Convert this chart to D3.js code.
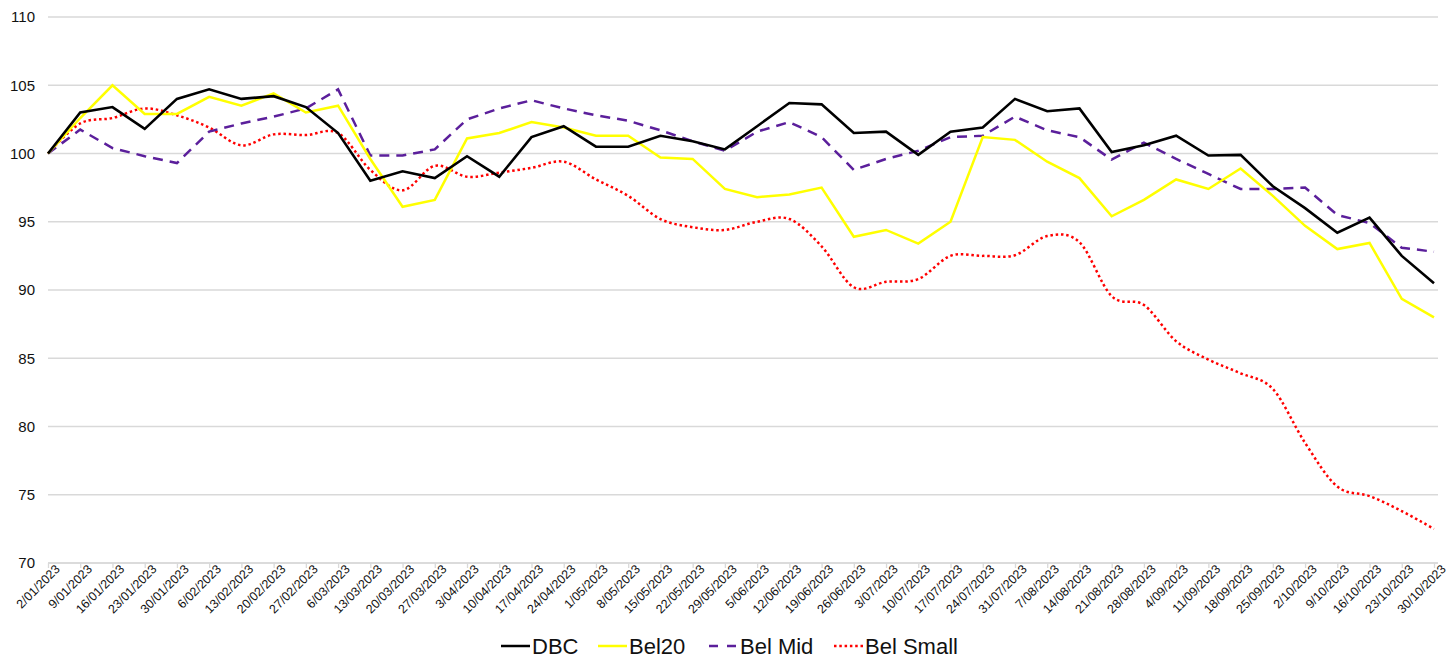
<!DOCTYPE html>
<html>
<head>
<meta charset="utf-8">
<script src="https://cdn.jsdelivr.net/npm/d3@7"></script>
<style>
  body { margin: 0; background: #fff; }
  text { font-family: "Liberation Sans", "DejaVu Sans", sans-serif; fill: #111; }
</style>
</head>
<body>
<div id="chart"></div>
<script>
// weekly dates (x categories)
var dates = ["2/01/2023","9/01/2023","16/01/2023","23/01/2023","30/01/2023","6/02/2023","13/02/2023",
  "20/02/2023","27/02/2023","6/03/2023","13/03/2023","20/03/2023","27/03/2023","3/04/2023","10/04/2023",
  "17/04/2023","24/04/2023","1/05/2023","8/05/2023","15/05/2023","22/05/2023","29/05/2023","5/06/2023",
  "12/06/2023","19/06/2023","26/06/2023","3/07/2023","10/07/2023","17/07/2023","24/07/2023","31/07/2023",
  "7/08/2023","14/08/2023","21/08/2023","28/08/2023","4/09/2023","11/09/2023","18/09/2023","25/09/2023",
  "2/10/2023","9/10/2023","16/10/2023","23/10/2023","30/10/2023"];

var dbc = [100, 103.0, 103.4, 101.8, 104.0, 104.7, 104.0, 104.2, 103.4, 101.5, 98.0, 98.7, 98.2, 99.8, 98.3,
  101.2, 102.0, 100.5, 100.5, 101.3, 100.9, 100.3, 102.0, 103.7, 103.6, 101.5, 101.6, 99.9, 101.6, 101.9,
  104.0, 103.1, 103.3, 100.1, 100.6, 101.3, 99.85, 99.9, 97.6, 96.0, 94.2, 95.3, 92.5, 90.5];

var bel20 = [100, 102.6, 105.0, 102.9, 102.9, 104.15, 103.5, 104.4, 103.0, 103.5, 99.6, 96.1, 96.6, 101.1, 101.5,
  102.3, 101.9, 101.3, 101.3, 99.7, 99.6, 97.4, 96.8, 97.0, 97.5, 93.9, 94.4, 93.4, 95.0, 101.2,
  101.0, 99.4, 98.2, 95.4, 96.6, 98.1, 97.4, 98.9, 96.9, 94.7, 93.0, 93.45, 89.35, 88.0];

var belMid = [100, 101.75, 100.4, 99.8, 99.3, 101.6, 102.2, 102.7, 103.3, 104.7, 99.85, 99.85, 100.3, 102.5, 103.3,
  103.9, 103.3, 102.8, 102.4, 101.7, 100.9, 100.2, 101.6, 102.3, 101.2, 98.8, 99.6, 100.2, 101.2, 101.3,
  102.7, 101.7, 101.2, 99.55, 100.8, 99.6, 98.5, 97.4, 97.4, 97.5, 95.5, 94.9, 93.1, 92.8];

var belSmall = [100, 102.2, 102.6, 103.3, 102.8, 101.9, 100.6, 101.4, 101.35, 101.5, 98.8, 97.3, 99.1, 98.3, 98.6,
  98.95, 99.4, 98.1, 96.9, 95.2, 94.6, 94.4, 95.0, 95.2, 93.2, 90.2, 90.6, 90.8, 92.5, 92.5,
  92.55, 93.95, 93.5, 89.55, 88.9, 86.25, 84.9, 83.9, 82.75, 78.8, 75.6, 74.9, 73.8, 72.5];

var yTicks = [70, 75, 80, 85, 90, 95, 100, 105, 110];
var seriesNames = ["DBC", "Bel20", "Bel Mid", "Bel Small"];

var svgWidth = 1456;
var svgHeight = 669;
var margin = { top: 17, right: 22, bottom: 106, left: 48 };
var width = svgWidth - margin.left - margin.right;
var height = svgHeight - margin.top - margin.bottom;

var svg = d3.select("#chart")
  .append("svg")
  .attr("width", svgWidth)
  .attr("height", svgHeight);

var chartGroup = svg.append("g")
  .attr("transform", `translate(${margin.left}, ${margin.top})`);

var xScale = d3.scalePoint().domain(dates).range([0, width]);
var yScale = d3.scaleLinear().domain([70, 110]).range([height, 0]);

// gridlines
chartGroup.append("g")
  .selectAll("line")
  .data(yTicks)
  .enter()
  .append("line")
  .attr("x1", 0)
  .attr("x2", width + 4)
  .attr("y1", d => yScale(d))
  .attr("y2", d => yScale(d))
  .attr("stroke", "#d9d9d9")
  .attr("stroke-width", 1.3);

// y labels
var leftAxis = d3.axisLeft(yScale).tickValues(yTicks).tickSize(0).tickPadding(13);
var yAxisG = chartGroup.append("g").call(leftAxis);
yAxisG.select(".domain").remove();
yAxisG.selectAll("text").attr("font-size", "15px").style("font-family", "Liberation Sans, sans-serif");

// x axis
var bottomAxis = d3.axisBottom(xScale).tickSize(5).tickPadding(3);
var xAxisG = chartGroup.append("g")
  .attr("transform", `translate(0, ${height})`)
  .call(bottomAxis);
xAxisG.select(".domain").attr("stroke", "#d9d9d9").attr("stroke-width", 1.3)
  .attr("d", `M0,0H${width + 4}`);
xAxisG.selectAll(".tick line").attr("stroke", "#d9d9d9").attr("stroke-width", 1.3);
xAxisG.selectAll("text")
  .attr("font-size", "12.5px")
  .style("text-anchor", "end")
  .attr("dx", "0.3em")
  .attr("dy", "0.6em")
  .attr("y", 6)
  .attr("transform", "rotate(-45)");

// lines
var line = d3.line()
  .x((d, i) => xScale(dates[i]))
  .y(d => yScale(d));

var smoothLine = d3.line()
  .x((d, i) => xScale(dates[i]))
  .y(d => yScale(d))
  .curve(d3.curveCatmullRom.alpha(0));

chartGroup.append("path")
  .attr("d", smoothLine(belSmall))
  .attr("fill", "none")
  .attr("stroke", "#ff0000")
  .attr("stroke-width", 2.5)
  .attr("stroke-dasharray", "2.5,2.8");

chartGroup.append("path")
  .attr("d", line(belMid))
  .attr("fill", "none")
  .attr("stroke", "#5b1f9b")
  .attr("stroke-width", 2.5)
  .attr("stroke-dasharray", "10,7");

chartGroup.append("path")
  .attr("d", line(bel20))
  .attr("fill", "none")
  .attr("stroke", "#ffff00")
  .attr("stroke-width", 2.5);

chartGroup.append("path")
  .attr("d", line(dbc))
  .attr("fill", "none")
  .attr("stroke", "#000000")
  .attr("stroke-width", 2.6);

// legend
var legendItems = [
  { name: seriesNames[0], color: "#000000", dash: null, x: 501 },
  { name: seriesNames[1], color: "#ffff00", dash: null, x: 598 },
  { name: seriesNames[2], color: "#5b1f9b", dash: "9,9", x: 709 },
  { name: seriesNames[3], color: "#ff0000", dash: "2.5,2.8", x: 834 }
];
var legend = svg.append("g").attr("transform", "translate(0, 646)");
legendItems.forEach(function(item) {
  legend.append("line")
    .attr("x1", item.x).attr("x2", item.x + 29)
    .attr("y1", 0).attr("y2", 0)
    .attr("stroke", item.color)
    .attr("stroke-width", 2.5)
    .attr("stroke-dasharray", item.dash);
  legend.append("text")
    .attr("x", item.x + 31)
    .attr("y", 8)
    .attr("font-size", "22px")
    .text(item.name);
});
</script>
</body>
</html>
